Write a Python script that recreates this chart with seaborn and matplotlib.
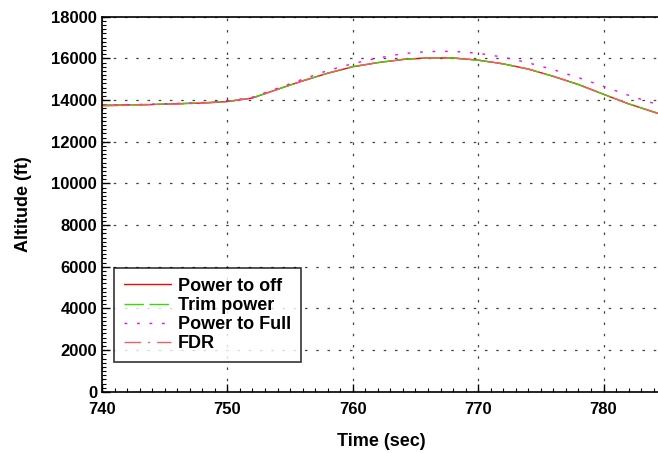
import numpy as np
import pandas as pd
import seaborn as sns
import matplotlib.pyplot as plt
from matplotlib.ticker import MultipleLocator

# time axis (sec)
time_sec = [740, 744, 748, 750, 752, 754, 756, 758, 760, 762, 764,
            766, 768, 770, 772, 774, 776, 778, 780, 782, 784.5]

# altitude (ft) per run
power_off = [13750, 13790, 13860, 13930, 14100, 14520, 14920, 15290, 15600, 15800, 15950,
             16030, 16020, 15920, 15740, 15490, 15140, 14750, 14280, 13820, 13330]
trim_power = [13760, 13790, 13870, 13940, 14110, 14520, 14930, 15290, 15610, 15800, 15960,
              16040, 16020, 15910, 15740, 15490, 15140, 14740, 14280, 13820, 13340]
power_full = [13760, 13800, 13880, 13950, 14140, 14570, 15000, 15420, 15750, 16020, 16230,
              16330, 16340, 16250, 16060, 15790, 15460, 15080, 14660, 14230, 13750]
fdr = [13720, 13780, 13850, 13930, 14100, 14510, 14920, 15290, 15600, 15800, 15950,
       16030, 16020, 15920, 15740, 15490, 15140, 14750, 14280, 13820, 13330]

sns.set_theme(style="white")
plt.rcParams['font.family'] = ['Liberation Sans Narrow', 'Liberation Sans', 'DejaVu Sans']
plt.rcParams['text.color'] = 'black'
plt.rcParams['axes.labelcolor'] = 'black'
plt.rcParams['xtick.color'] = 'black'
plt.rcParams['ytick.color'] = 'black'

fig = plt.figure(figsize=(6.58, 4.53), dpi=100)
ax = fig.add_axes([0.155, 0.135, 0.848, 0.828])

sns.lineplot(x=time_sec, y=power_off, ax=ax, color='#ff0000', lw=1.0, label='Power to off')
sns.lineplot(x=time_sec, y=trim_power, ax=ax, color='#33dd00', lw=1.0, label='Trim power').lines[-1].set_dashes((14, 4))
sns.lineplot(x=time_sec, y=power_full, ax=ax, color='#ff00ff', lw=1.0, label='Power to Full').lines[-1].set_dashes((2, 7))
sns.lineplot(x=time_sec, y=fdr, ax=ax, color='#f06060', lw=1.0, label='FDR').lines[-1].set_dashes((12, 5, 1.5, 5))

ax.set_xlim(740, 784.5)
ax.set_ylim(0, 18000)
ax.xaxis.set_major_locator(MultipleLocator(10))
ax.xaxis.set_minor_locator(MultipleLocator(1))
ax.yaxis.set_major_locator(MultipleLocator(2000))
ax.yaxis.set_minor_locator(MultipleLocator(200))
ax.tick_params(which='major', direction='in', length=6, width=1, colors='black',
               bottom=True, left=True, labelsize=12)
ax.tick_params(axis='x', which='major', pad=7)
ax.tick_params(which='minor', direction='in', length=3, width=0.8, colors='black',
               bottom=True, left=True)
for lab in ax.get_xticklabels() + ax.get_yticklabels():
    lab.set_fontweight('bold')

ax.grid(True, which='major', color='#444444', linestyle=(0, (2, 7)), lw=0.9)
for s in ax.spines.values():
    s.set_color('black')
    s.set_linewidth(1.2)

ax.set_xlabel('Time (sec)', fontsize=13, fontweight='bold', family=['Liberation Sans', 'DejaVu Sans'], labelpad=12)
ax.set_ylabel('Altitude (ft)', fontsize=13, fontweight='bold', family=['Liberation Sans', 'DejaVu Sans'], labelpad=14)

leg = ax.legend(loc='lower left', bbox_to_anchor=(0.005, 0.055), frameon=True, fancybox=False,
                prop={'family': ['Liberation Sans', 'DejaVu Sans'], 'weight': 'bold', 'size': 13},
                handlelength=2.6, labelspacing=0.12, borderpad=0.55, handletextpad=0.4)
leg.get_frame().set_edgecolor('black')
leg.get_frame().set_linewidth(1.2)

fig.savefig('out.png', dpi=100)
